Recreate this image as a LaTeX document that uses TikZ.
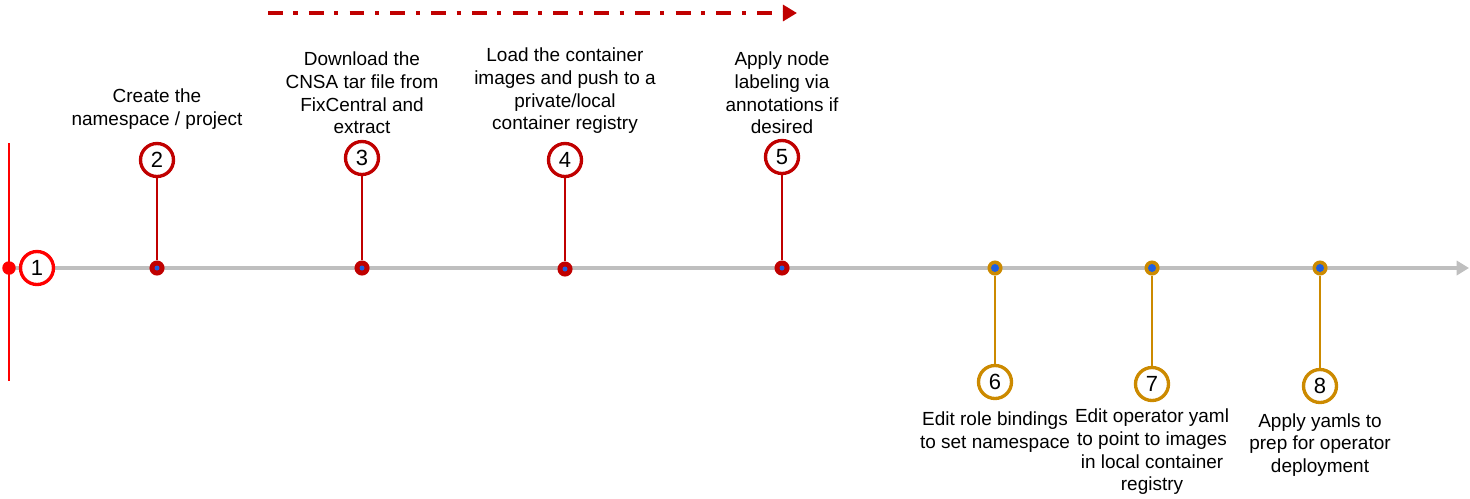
\documentclass[tikz,border=0pt]{standalone}
\usepackage{fontspec}
\setmainfont{Liberation Sans}
\usepackage{tikz}
\usetikzlibrary{arrows.meta,positioning}

\definecolor{brightred}{HTML}{FF0000}
\definecolor{darkred}{HTML}{C00000}
\definecolor{gold}{HTML}{CC8A00}
\definecolor{axisgray}{HTML}{BFBFBF}
\definecolor{pinblue}{HTML}{1F5FE0}

\begin{document}
\begin{tikzpicture}[x=0.02cm, y=-0.02cm,
	stepnum/.style={circle, draw=#1, line width=1.9pt, fill=white, minimum size=0.66cm, inner sep=0pt, font=\fontsize{12.5}{14}\selectfont},
	pin/.style={circle, draw=#1, fill=#1, line width=0.9pt, minimum size=0.27cm, inner sep=0pt},
	stem/.style={draw=#1, line width=1.3pt},
	label/.style={align=center, font=\fontsize{10.8}{12.9}\selectfont}]
	\useasboundingbox (0,0) rectangle (1470,498);

	% timeline
	\coordinate (start) at (9,268);
	\coordinate (stop) at (1469,268);
	\draw [axisgray, line width=2.2pt, -{Triangle[length=7pt,width=8pt]}] (start) -- (stop);
	\coordinate (top) at (9,143);
	\coordinate (bot) at (9,381);
	\draw [brightred, line width=1.4pt] (top) -- (bot);
	\node (d1) [circle, fill=brightred, minimum size=0.27cm, inner sep=0pt] at (start) {};
	\node (c1) [stepnum=brightred] at (37,268) {1};

	% dash-dot arrow
	\coordinate (ds) at (268,13);
	\coordinate (de) at (797,13);
	\draw [darkred, line width=2.2pt, dash pattern=on 8.5pt off 6pt on 2.3pt off 6.4pt,
		-{Triangle[length=8pt,width=9pt]}] (ds) -- (de);

	% upper steps
	\node (d2) [pin=darkred] at (157,268) {};
	\node (d3) [pin=darkred] at (362,268) {};
	\node (d4) [pin=darkred] at (565,269) {};
	\node (d5) [pin=darkred] at (782,268) {};
	\node (c2) [stepnum=darkred] at (157,160) {2};
	\node (c3) [stepnum=darkred] at (362,158) {3};
	\node (c4) [stepnum=darkred] at (565,160) {4};
	\node (c5) [stepnum=darkred] at (782,157) {5};
	\draw [stem=darkred] (c2) -- (d2);
	\draw [stem=darkred] (c3) -- (d3);
	\draw [stem=darkred] (c4) -- (d4);
	\draw [stem=darkred] (c5) -- (d5);

	% lower steps
	\node (d6) [pin=gold] at (995,268) {};
	\node (d7) [pin=gold] at (1152,268) {};
	\node (d8) [pin=gold] at (1320,268) {};
	\node (c6) [stepnum=gold] at (995,382) {6};
	\node (c7) [stepnum=gold] at (1152,384) {7};
	\node (c8) [stepnum=gold] at (1320,386) {8};
	\draw [stem=gold] (c6) -- (d6);
	\draw [stem=gold] (c7) -- (d7);
	\draw [stem=gold] (c8) -- (d8);

	% blue centres
	\fill [pinblue] (d2) circle (2.5) (d3) circle (2.5) (d4) circle (2.5) (d5) circle (2.5);
	\fill [pinblue] (d6) circle (4) (d7) circle (4) (d8) circle (4);

	% texts
	\node (t2) [label] at (157,109) {Create the\\namespace / project};
	\node (t3) [label] at (362,93) {Download the\\CNSA tar file from\\FixCentral and\\extract};
	\node (t4) [label] at (565,91) {Load the container\\images and push to a\\private/local\\container registry};
	\node (t5) [label] at (782,93) {Apply node\\labeling via\\annotations if\\desired};
	\node (t6) [label] at (995,432) {Edit role bindings\\to set namespace};
	\node (t7) [label] at (1152,452) {Edit operator yaml\\to point to images\\in local container\\registry};
	\node (t8) [label] at (1320,445) {Apply yamls to\\prep for operator\\deployment};
\end{tikzpicture}
\end{document}
